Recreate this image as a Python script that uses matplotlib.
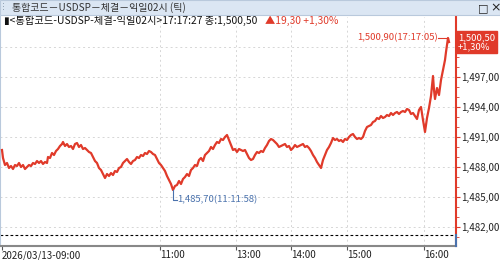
import numpy as np
import matplotlib.pyplot as plt
from matplotlib.patches import Rectangle
import matplotlib.transforms as mtransforms

plt.rcParams['font.family'] = ['Noto Sans CJK KR', 'DejaVu Sans']

# tick sequence number (chart is tick based, not time based)
seq = [2, 3, 5, 7, 9, 11, 13, 15, 17, 19, 21, 23, 25, 27, 29, 31, 33, 35, 37, 39,
       41, 43, 45, 47, 48, 50, 52, 54, 56, 58, 60, 62, 63, 65, 67, 69, 71, 73, 75, 77,
       79, 81, 83, 85, 87, 89, 91, 93, 95, 97, 99, 101, 103, 105, 107, 109, 111, 113, 115, 117,
       119, 121, 123, 125, 127, 129, 131, 133, 135, 137, 139, 141, 143, 145, 147, 149, 151, 153, 155, 157,
       159, 161, 163, 165, 167, 169, 171, 173, 175, 177, 179, 181, 183, 185, 187, 189, 191, 193, 195, 197,
       199, 201, 203, 205, 207, 209, 211, 213, 215, 217, 219, 221, 223, 225, 227, 229, 231, 233, 235, 237,
       239, 241, 243, 245, 247, 249, 251, 253, 255, 257, 259, 261, 263, 265, 267, 269, 271, 273, 275, 277,
       279, 281, 283, 285, 287, 289, 291, 293, 295, 297, 299, 301, 303, 305, 307, 309, 311, 313, 315, 317,
       319, 321, 323, 325, 327, 329, 331, 333, 335, 337, 339, 341, 343, 345, 347, 349, 351, 353, 355, 357,
       359, 361, 363, 365, 367, 369, 371, 373, 375, 377, 379, 381, 383, 385, 387, 389, 391, 393, 395, 397,
       399, 401, 403, 405, 407, 409, 411, 413, 415, 417, 419, 421, 423, 425, 427, 429, 431, 433, 434, 435,
       437, 439, 441, 443, 445, 446, 447, 448, 449]

price = [1489.7, 1488.9, 1488.2, 1488.4, 1487.9, 1488.1, 1487.8, 1488.2, 1488.1, 1488.4,
         1488.0, 1488.2, 1487.8, 1488.0, 1488.2, 1488.1, 1488.4, 1488.3, 1488.6, 1488.4,
         1488.6, 1488.3, 1488.5, 1488.4, 1489.0, 1488.9, 1489.4, 1489.2, 1489.6, 1489.8,
         1490.1, 1490.3, 1490.5, 1490.1, 1490.3, 1490.0, 1490.1, 1489.8, 1490.3, 1490.4,
         1490.0, 1490.2, 1489.8, 1489.9, 1489.7, 1489.5, 1489.4, 1489.0, 1488.6, 1488.4,
         1487.9, 1487.7, 1487.3, 1486.9, 1487.3, 1487.1, 1487.4, 1487.2, 1487.6, 1487.5,
         1487.9, 1488.0, 1488.4, 1488.6, 1488.8, 1488.5, 1488.3, 1488.6, 1488.7, 1489.0,
         1488.9, 1489.2, 1489.1, 1489.4, 1489.3, 1489.6, 1489.5, 1489.3, 1489.2, 1488.8,
         1488.4, 1488.2, 1487.9, 1487.6, 1487.1, 1486.7, 1486.3, 1485.7, 1486.1, 1486.2,
         1486.6, 1486.3, 1486.8, 1487.0, 1487.3, 1487.1, 1487.7, 1487.9, 1488.2, 1488.1,
         1488.7, 1488.9, 1488.6, 1489.2, 1489.4, 1489.6, 1490.0, 1489.8, 1490.2, 1490.5,
         1490.4, 1490.8, 1490.7, 1491.0, 1491.2, 1490.7, 1490.2, 1489.7, 1489.8, 1489.5,
         1489.8, 1489.7, 1489.6, 1489.7, 1489.3, 1488.9, 1488.7, 1488.8, 1489.2, 1489.5,
         1489.4, 1489.6, 1489.5, 1489.9, 1490.2, 1490.6, 1490.8, 1490.7, 1490.5, 1490.3,
         1490.0, 1490.1, 1490.2, 1490.3, 1490.0, 1490.1, 1489.7, 1489.9, 1490.2, 1490.0,
         1490.1, 1490.2, 1490.3, 1490.0, 1490.1, 1489.9, 1489.6, 1489.2, 1488.9, 1488.5,
         1488.2, 1487.9, 1488.7, 1489.2, 1489.7, 1490.0, 1490.4, 1490.9, 1490.7, 1490.8,
         1490.6, 1490.7, 1490.5, 1490.8, 1490.7, 1491.0, 1491.2, 1491.3, 1491.0, 1490.8,
         1490.9, 1490.8, 1491.0, 1491.6, 1492.0, 1492.1, 1492.2, 1492.5, 1492.6, 1492.9,
         1492.8, 1493.1, 1492.9, 1493.0, 1493.2, 1493.1, 1493.4, 1493.2, 1493.4, 1493.5,
         1493.3, 1493.5, 1493.6, 1493.5, 1493.8, 1493.7, 1493.3, 1493.4, 1493.1, 1492.8,
         1493.7, 1494.0, 1492.7, 1491.5, 1492.9, 1493.9, 1495.1, 1497.1, 1495.7, 1494.8,
         1495.9, 1495.2, 1496.7, 1497.7, 1498.7, 1499.5, 1500.2, 1500.9, 1500.5]

hour_pos = [2, 160, 236, 291, 347, 424]
hour_labels = ['2026/03/13-09:00', '11:00', '13:00', '14:00', '15:00', '16:00']
y_ticks = [1482, 1485, 1488, 1491, 1494, 1497]
y_labels = ['1,482,00', '1,485,00', '1,488,00', '1,491,00', '1,494,00', '1,497,00']
grid_levels = [1482, 1485, 1488, 1491, 1494, 1497, 1500]
ref_level = 1481.2
hi_label = '1,500,90(17:17:05)'
lo_label = '1,485,70(11:11:58)'

red = '#e03a2a'
blue = '#4a72ad'

fig = plt.figure(figsize=(5, 2.6), dpi=100)
fig.patch.set_facecolor('white')

# title bar
fig.patches.append(Rectangle((0, 1 - 15 / 260), 1, 15 / 260, transform=fig.transFigure,
                             facecolor='#dbe6f3', edgecolor='#b9c9dc', lw=0.8, zorder=0))
fig.text(12 / 500, 1 - 8 / 260, '통합코드－USDSP－체결－익일02시 (틱)', fontsize=7.2,
         color='#333333', va='center', ha='left')
fig.text(2 / 500, 1 - 8 / 260, '⁝', fontsize=7, color='#8899aa', va='center', ha='left',
         family=['DejaVu Sans'])
fig.text(478 / 500, 1 - 8 / 260, '□', fontsize=8, color='#222222', va='center', ha='left',
         family=['DejaVu Sans'])
fig.text(490 / 500, 1 - 8 / 260, '×', fontsize=9, color='#222222', va='center', ha='left',
         family=['DejaVu Sans'])

ax = fig.add_axes([0, 14 / 260, 456 / 500, 229 / 260])
ax.plot(seq, price, color=red, lw=1.6, zorder=3)
ax.axhline(ref_level, color='black', lw=0.8, ls=(0, (2.5, 2)), zorder=2)

ax.set_xlim(0, 456)
ax.set_ylim(1480.1, 1503.0)

for x in hour_pos[1:]:
    ax.axvline(x, color='#d6d6d6', lw=0.7, ls=(0, (2, 3)), zorder=1)
for y in grid_levels:
    ax.axhline(y, color='#d6d6d6', lw=0.7, ls=(0, (2, 3)), zorder=1)

ax.set_xticks(hour_pos)
ax.set_xticklabels(hour_labels, ha='left', fontsize=7, color='#222222')
ax.tick_params(axis='x', direction='out', length=3, width=0.8, color='#555555', pad=0)

ax.yaxis.tick_right()
ax.set_yticks(y_ticks)
ax.set_yticklabels(y_labels, fontsize=7, color='#222222')
ax.set_yticks(np.arange(1481, 1501, 1), minor=True)
ax.tick_params(axis='y', which='major', direction='out', length=3, width=0.8, color=red, pad=1)
ax.tick_params(axis='y', which='minor', direction='out', length=2, width=0.6, color=red)

ax.spines['top'].set_visible(False)
ax.spines['left'].set_color('#b9c9dc')
ax.spines['left'].set_linewidth(1.5)
ax.spines['bottom'].set_color('#888888')
ax.spines['bottom'].set_linewidth(1.5)
ax.spines['right'].set_color(red)
ax.spines['right'].set_linewidth(1.5)
trans = mtransforms.blended_transform_factory(ax.transAxes, ax.transData)
ax.plot([1, 1], [1480.1, ref_level], transform=trans, color=blue, lw=1.5,
        clip_on=False, zorder=5)

# legend line inside chart
ax.text(4 / 456, 0.985, '▮<통합코드-USDSP-체결-익일02시>17:17:27 종:1,500,50',
        transform=ax.transAxes, fontsize=7.4, color='#111111', va='center', ha='left')
ax.text(265 / 456, 0.985, '▲19,30 +1,30%', transform=ax.transAxes, fontsize=7.4,
        color=red, va='center', ha='left')

# high / low markers
p = np.array(price)
ih, il = int(np.argmax(p)), int(np.argmin(p))
xh, yh = seq[ih], price[ih]
xl, yl = seq[il], price[il]
ax.plot([xh - 10, xh, xh], [yh, yh, yh - 0.3], color=red, lw=0.8, zorder=4)
ax.text(xh - 10, yh, hi_label, fontsize=6.8, color=red, va='center', ha='right')
ax.plot([xl, xl, xl + 4], [yl, yl - 1.0, yl - 1.0], color=blue, lw=0.8, zorder=4)
ax.text(xl + 4, yl - 1.0, lo_label, fontsize=6.8, color=blue, va='center', ha='left')

# last price box
last = price[-1]
ax.text(1.004, last, '1,500,50\n+1,30%', transform=trans, fontsize=6.8, color='white',
        va='center', ha='left', linespacing=0.95,
        bbox=dict(boxstyle='square,pad=0.18', fc=red, ec=red))

fig.savefig('out.png', dpi=100)
